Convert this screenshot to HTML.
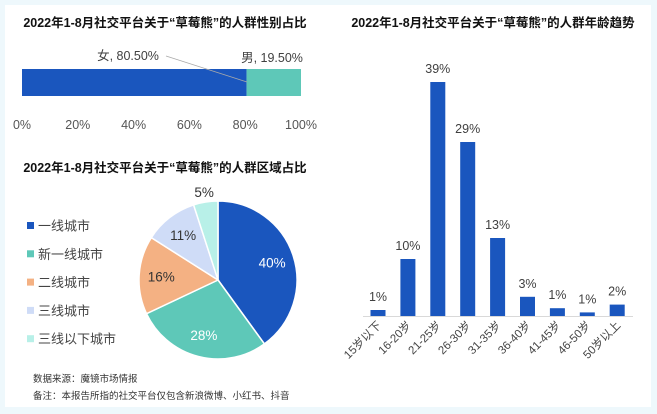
<!DOCTYPE html>
<html><head><meta charset="utf-8"><style>
body{margin:0;width:657px;height:414px;background:#eef8fc;font-family:"Liberation Sans","Noto Sans CJK SC",sans-serif;overflow:hidden}
svg{position:absolute;left:0;top:0}
</style></head><body>
<svg width="657" height="414">
<rect x="5" y="5" width="646" height="402" fill="#fff"/>
<g id="g"></g>
</svg>
<script>
const genderLabels=["女","男"];
const genderValues=[80.5,19.5];
const genderTicks=["0%","20%","40%","60%","80%","100%"];
const regionLabels=["一线城市","新一线城市","二线城市","三线城市","三线以下城市"];
const regionValues=[40,28,16,11,5];
const ageLabels=["15岁以下","16-20岁","21-25岁","26-30岁","31-35岁","36-40岁","41-45岁","46-50岁","50岁以上"];
const ageValues=[1.0,9.5,39,29,13,3.2,1.3,0.6,1.9];
const ageText=["1%","10%","39%","29%","13%","3%","1%","1%","2%"];

const NS="http://www.w3.org/2000/svg",g=document.getElementById('g');
function el(t,a,txt){const e=document.createElementNS(NS,t);for(const k in a)e.setAttribute(k,a[k]);if(txt!=null)e.textContent=txt;g.appendChild(e);return e;}
function T(x,y,s,o){return el('text',Object.assign({x:x,y:y,'font-size':12.5,fill:'#404040','text-anchor':'middle'},o||{}),s);}

let t;
t=T(165,27,"2022年1-8月社交平台关于“草莓熊”的人群性别占比",{'font-weight':'bold',fill:'#111','font-size':12.5});

t=T(165,172,"2022年1-8月社交平台关于“草莓熊”的人群区域占比",{'font-weight':'bold',fill:'#111','font-size':12.5});

t=T(493,27,"2022年1-8月社交平台关于“草莓熊”的人群年龄趋势",{'font-weight':'bold',fill:'#111','font-size':12.5});


const gx0=22,gx1=301;const gX=v=>gx0+(gx1-gx0)*v/100;
const gCols=["#1a56be","#5ec8b8"];
let acc=0;
genderValues.forEach((v,i)=>{
 const r=el('rect',{x:gX(acc),y:69,width:gX(acc+v)-gX(acc),height:27,fill:gCols[i]});
 
 acc+=v;});
el('line',{x1:166,y1:56,x2:247,y2:82,stroke:'#aaa','stroke-width':0.8});
t=T(128,60,genderLabels[0]+", "+genderValues[0].toFixed(2)+"%");
t=T(272,62,genderLabels[1]+", "+genderValues[1].toFixed(2)+"%");
genderTicks.forEach((s,i)=>{t=T(gX(i*20),129,s,{fill:'#555'});});

const rCols=["#1a56be","#5ec8b8","#f4b183","#cfdcf7","#b8f0e8"];
const cx=218,cy=280,R=79;
const tot=regionValues.reduce((a,b)=>a+b,0);let a0=-Math.PI/2;
regionValues.forEach((v,i)=>{
 const a1=a0+v/tot*2*Math.PI;
 const p=`M${cx},${cy}L${cx+R*Math.cos(a0)},${cy+R*Math.sin(a0)}A${R},${R} 0 ${a1-a0>Math.PI?1:0} 1 ${cx+R*Math.cos(a1)},${cy+R*Math.sin(a1)}Z`;
 const s=el('path',{d:p,fill:rCols[i],stroke:'#fff','stroke-width':1.5});
 
 const am=(a0+a1)/2,lr=i==4?R+10:R*0.72;
 t=T(cx+lr*Math.cos(am),cy+lr*Math.sin(am)+5,v+"%",{'font-size':13.5,fill:i<2?'#fff':'#333'});
 
 a0=a1;});
regionLabels.forEach((s,i)=>{
 const y=226+i*28.3;
 const r=el('rect',{x:27,y:y-4,width:7,height:7,fill:rCols[i]});
 t=T(38,y+4.5,s,{'text-anchor':'start','font-size':13,fill:'#444'});});

t=T(33,382,"数据来源：魔镜市场情报",{'text-anchor':'start','font-size':9.5,fill:'#333'});
t=T(33,399,"备注：本报告所指的社交平台仅包含新浪微博、小红书、抖音",{'text-anchor':'start','font-size':9.5,fill:'#333'});

const base=316,scale=6.0,x0=378,step=29.9,bw=15;
const ax=i=>x0+i*step,ay=v=>base-v*scale;
el('line',{x1:363,y1:base+0.5,x2:633,y2:base+0.5,stroke:'#d9d9d9'});
ageValues.forEach((v,i)=>{
 const r=el('rect',{x:ax(i)-bw/2,y:ay(v),width:bw,height:base-ay(v),fill:'#1a56be'});
 
 t=T(ax(i),ay(v)-9,ageText[i],{'font-size':12.5});
 t=el('text',{x:ax(i)+4,y:base+10,'font-size':11.5,fill:'#444','text-anchor':'end',transform:`rotate(-45 ${ax(i)+4} ${base+10})`},ageLabels[i]);
 });
</script>
</body></html>
